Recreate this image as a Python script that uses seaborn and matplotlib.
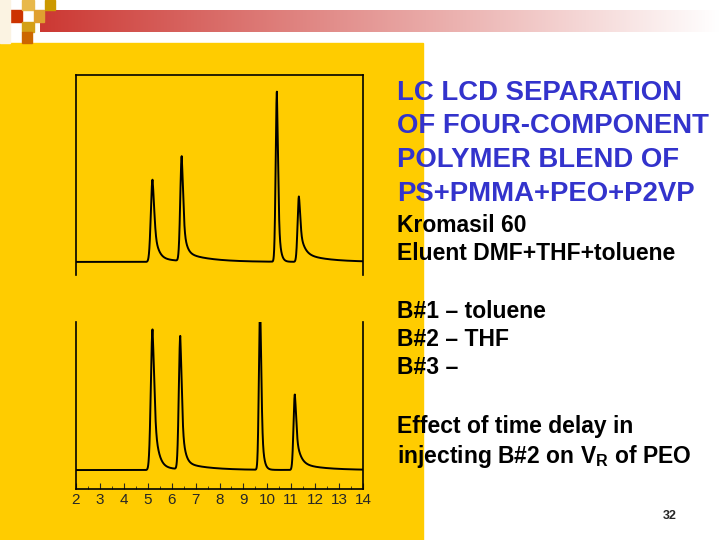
import numpy as np
import pandas as pd
import matplotlib
matplotlib.use("Agg")
import matplotlib.pyplot as plt
import seaborn as sns
from matplotlib.patches import Rectangle

sns.set_style("white")
plt.rcParams['font.family'] = ['Liberation Sans', 'DejaVu Sans']

# Peak parameters (elution volume, relative height)
top_pos = [5.2, 6.42, 10.4, 11.32]
top_height = [0.44, 0.56, 0.91, 0.35]
bot_pos = [5.2, 6.36, 9.7, 11.15]
bot_height = [0.95, 0.90, 1.15, 0.51]
peak_sigma = [0.07, 0.06, 0.05, 0.055]
peak_tau = [0.16, 0.12, 0.08, 0.16]
tail_level = [0.02, 0.05, 0.0, 0.05]
x_ticks = [2, 3, 4, 5, 6, 7, 8, 9, 10, 11, 12, 13, 14]

def trace(pos, height):
    x = np.linspace(2, 14, 4000)
    y = np.zeros_like(x)
    for p, h, s, t, tl in zip(pos, height, peak_sigma, peak_tau, tail_level):
        g = np.exp(-(x - p) ** 2 / (2 * s ** 2))
        d = np.clip(x - p, 0, None)
        right = np.where(x > p, 0.4 * g + 0.6 * np.exp(-d / t), g)
        long_tail = tl * (1 - np.exp(-d / 0.15)) * np.exp(-d / 1.0)
        y += h * right + long_tail
    return pd.DataFrame({"x": x, "y": y})

fig = plt.figure(figsize=(7.2, 5.4), dpi=100)
fig.patch.set_facecolor("white")

# background decorations
fig.patches.append(Rectangle((0, 0), 423 / 720, 1 - 43 / 540, transform=fig.transFigure,
                             color="#FFCC00", zorder=-10))
grad = fig.add_axes([40 / 720, 1 - 32 / 540, 680 / 720, 22 / 540], zorder=-5)
g = np.linspace(0, 1, 256)[None, :]
cols = np.stack([0.80 + 0.20 * g, 0.22 + 0.78 * g, 0.2 + 0.8 * g], axis=-1)
grad.imshow(cols, aspect="auto", extent=[0, 1, 0, 1])
grad.axis("off")
for (x0, y0, w, h, c) in [(10, 10, 12, 12, "#CC3300"), (22, 0, 12, 10, "#E8B84A"),
                          (45, 0, 10, 10, "#CC9900"), (22, 22, 12, 10, "#D4A017"),
                          (22, 32, 10, 11, "#CC6600"), (34, 10, 10, 12, "#E0A030"),
                          (0, 0, 10, 43, "#FBF3E2")]:
    fig.patches.append(Rectangle((x0 / 720, 1 - (y0 + h) / 540), w / 720, h / 540,
                                 transform=fig.transFigure, color=c, zorder=-4))

# top chromatogram
ax1 = fig.add_axes([76 / 720, 1 - 275 / 540, 287 / 720, 200 / 540], zorder=2)
sns.lineplot(data=trace(top_pos, top_height), x="x", y="y", ax=ax1, color="black", lw=1.4)
ax1.set_xlim(2, 14)
ax1.set_ylim(-0.07, 1)
ax1.set_facecolor("none")
ax1.spines["bottom"].set_visible(False)
ax1.set_xticks([]); ax1.set_yticks([])
ax1.set_xlabel(""); ax1.set_ylabel("")

# bottom chromatogram
ax2 = fig.add_axes([76 / 720, 1 - 489 / 540, 287 / 720, 167 / 540], zorder=2)
sns.lineplot(data=trace(bot_pos, bot_height), x="x", y="y", ax=ax2, color="black", lw=1.4)
ax2.set_xlim(2, 14)
ax2.set_ylim(-0.128, 1)
ax2.set_facecolor("none")
ax2.spines["top"].set_visible(False)
ax2.set_yticks([])
ax2.set_xticks(x_ticks)
ax2.set_xticklabels([str(t) for t in x_ticks], fontsize=11)
ax2.set_xticks(np.arange(2.5, 14, 1), minor=True)
ax2.tick_params(axis="x", which="major", direction="in", length=4, pad=3, bottom=True)
ax2.tick_params(axis="x", which="minor", direction="in", length=2, bottom=True)
ax2.set_xlabel(""); ax2.set_ylabel("")
for ax in (ax1, ax2):
    for s in ax.spines.values():
        s.set_color("black"); s.set_linewidth(1.2)

def T(y, s, size, color="black"):
    fig.text(397 / 720, 1 - y / 540, s, fontsize=size, color=color, fontweight="bold",
             va="center", ha="left", zorder=3)

for y, s in zip([93, 126, 160, 194], ["LC LCD SEPARATION", "OF FOUR-COMPONENT",
                                        "POLYMER BLEND OF", "PS+PMMA+PEO+P2VP"]):
    T(y, s, 19.8, color="#3333CC")
T(225, "Kromasil 60", 16.5)
T(254, "Eluent DMF+THF+toluene", 16.5)
T(311, "B#1 \u2013 toluene", 16.5)
T(340, "B#2 \u2013 THF", 16.5)
T(368, "B#3 \u2013", 16.5)
T(426, "Effect of time delay in", 16.5)
T(456, "injecting B#2 on V$_\\mathregular{R}$ of PEO", 16.5)
fig.text(670 / 720, 1 - 516 / 540, "32", fontsize=9, fontweight="bold", ha="center", va="center")

fig.savefig("out.png", dpi=100)
